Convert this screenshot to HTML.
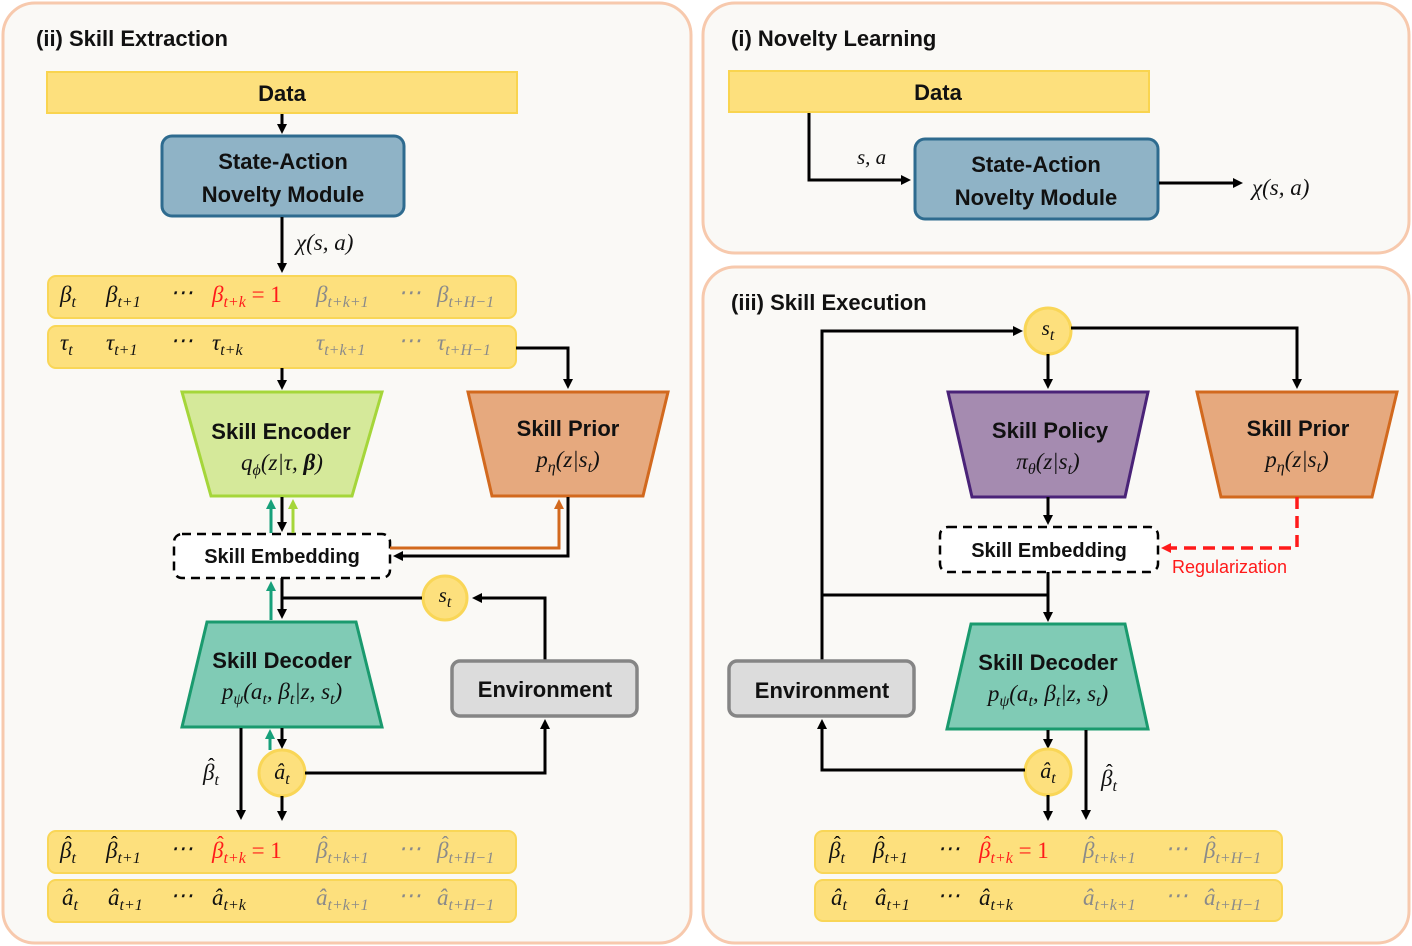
<!DOCTYPE html>
<html><head><meta charset="utf-8"><style>
html,body{margin:0;padding:0;background:#fff;}
svg{display:block;}
.t{font-family:"Liberation Sans",sans-serif;font-weight:bold;fill:#111;}
.m{font-family:"Liberation Serif",serif;font-style:italic;fill:#111;}
.s{font-size:16px;}
.g{fill:#8a8a8a;}
.r{fill:#ff1a1a;}
.h{font-family:"Liberation Serif",serif;font-size:20px;}
</style></head><body>
<svg width="1412" height="946" viewBox="0 0 1412 946" xmlns="http://www.w3.org/2000/svg">
<defs>
<marker id="ab" markerWidth="10" markerHeight="10" refX="7" refY="5" orient="auto" markerUnits="userSpaceOnUse"><path d="M0,0 L10,5 L0,10 z" fill="#000"/></marker>
<marker id="ag" markerWidth="10" markerHeight="10" refX="7" refY="5" orient="auto" markerUnits="userSpaceOnUse"><path d="M0,0 L10,5 L0,10 z" fill="#17a07a"/></marker>
<marker id="al" markerWidth="10" markerHeight="10" refX="7" refY="5" orient="auto" markerUnits="userSpaceOnUse"><path d="M0,0 L10,5 L0,10 z" fill="#a5d63a"/></marker>
<marker id="ao" markerWidth="10" markerHeight="10" refX="7" refY="5" orient="auto" markerUnits="userSpaceOnUse"><path d="M0,0 L10,5 L0,10 z" fill="#d2691e"/></marker>
<marker id="ar" markerWidth="10" markerHeight="10" refX="7" refY="5" orient="auto" markerUnits="userSpaceOnUse"><path d="M0,0 L10,5 L0,10 z" fill="#ff1a1a"/></marker>
</defs>
<rect width="1412" height="946" fill="#fff"/>
<rect x="3" y="3" width="688" height="940" rx="32" fill="#faf9f6" stroke="#f7c9ad" stroke-width="3"/>
<rect x="703" y="3" width="706" height="250" rx="32" fill="#faf9f6" stroke="#f7c9ad" stroke-width="3"/>
<rect x="703" y="267" width="706" height="676" rx="32" fill="#faf9f6" stroke="#f7c9ad" stroke-width="3"/>

<text class="t" x="36" y="46" font-size="22">(ii) Skill Extraction</text>
<text class="t" x="731" y="46" font-size="22">(i) Novelty Learning</text>
<text class="t" x="731" y="310" font-size="22">(iii) Skill Execution</text>

<!-- LEFT -->
<rect x="47" y="72" width="470" height="41" fill="#fde07d" stroke="#f9d44f" stroke-width="2"/>
<text class="t" x="282" y="101" font-size="22" text-anchor="middle">Data</text>
<line x1="282" y1="114" x2="282" y2="131" stroke="#000" stroke-width="3" marker-end="url(#ab)"/>
<rect x="162" y="136" width="242" height="80" rx="10" fill="#8fb3c6" stroke="#2e6b8f" stroke-width="3"/>
<text class="t" x="283" y="169" font-size="22" text-anchor="middle">State-Action</text>
<text class="t" x="283" y="202" font-size="22" text-anchor="middle">Novelty Module</text>
<line x1="282" y1="217" x2="282" y2="270" stroke="#000" stroke-width="3" marker-end="url(#ab)"/>
<text class="m" x="296" y="250" font-size="23">χ(s, a)</text>

<rect x="48" y="276" width="468" height="42" rx="8" fill="#fde07d" stroke="#f9d657" stroke-width="2"/>
<g class="m" font-size="23">
<text x="60" y="302">β<tspan class="s" dy="5">t</tspan></text>
<text x="106" y="302">β<tspan class="s" dy="5">t+1</tspan></text>
<text x="170" y="300">⋯</text>
<text x="212" y="302" class="m r">β<tspan class="s" dy="5">t+k</tspan><tspan dy="-5" font-style="normal"> = 1</tspan></text>
<text x="316" y="302" class="m g">β<tspan class="s" dy="5">t+k+1</tspan></text>
<text x="398" y="300" class="g">⋯</text>
<text x="437" y="302" class="m g">β<tspan class="s" dy="5">t+H−1</tspan></text>
</g>
<rect x="48" y="326" width="468" height="42" rx="8" fill="#fde07d" stroke="#f9d657" stroke-width="2"/>
<g class="m" font-size="23">
<text x="60" y="350">τ<tspan class="s" dy="5">t</tspan></text>
<text x="106" y="350">τ<tspan class="s" dy="5">t+1</tspan></text>
<text x="170" y="348">⋯</text>
<text x="212" y="350">τ<tspan class="s" dy="5">t+k</tspan></text>
<text x="316" y="350" class="m g">τ<tspan class="s" dy="5">t+k+1</tspan></text>
<text x="398" y="348" class="g">⋯</text>
<text x="437" y="350" class="m g">τ<tspan class="s" dy="5">t+H−1</tspan></text>
</g>
<line x1="282" y1="368" x2="282" y2="387" stroke="#000" stroke-width="3" marker-end="url(#ab)"/>
<polyline points="516,348 568,348 568,386" fill="none" stroke="#000" stroke-width="3" marker-end="url(#ab)"/>

<polygon points="182,392 382,392 352,496 211,496" fill="#d5e99a" stroke="#a5d63a" stroke-width="3"/>
<text class="t" x="281" y="439" font-size="22" text-anchor="middle">Skill Encoder</text>
<text class="m" x="282" y="470" font-size="23" text-anchor="middle">q<tspan class="s" dy="5">ϕ</tspan><tspan dy="-5">(z|τ, </tspan><tspan font-weight="bold">β</tspan>)</text>
<polygon points="468,392 668,392 643,496 492,496" fill="#e6a97e" stroke="#d2691e" stroke-width="3"/>
<text class="t" x="568" y="436" font-size="22" text-anchor="middle">Skill Prior</text>
<text class="m" x="568" y="467" font-size="23" text-anchor="middle">p<tspan class="s" dy="5">η</tspan><tspan dy="-5">(z|s</tspan><tspan class="s" dy="5">t</tspan><tspan dy="-5">)</tspan></text>

<rect x="174" y="534" width="216" height="44" rx="8" fill="#fff" stroke="#000" stroke-width="2.5" stroke-dasharray="9,6"/>
<text class="t" x="282" y="563" font-size="20" text-anchor="middle">Skill Embedding</text>
<line x1="282" y1="497" x2="282" y2="529" stroke="#000" stroke-width="3" marker-end="url(#ab)"/>
<line x1="271" y1="533" x2="271" y2="502" stroke="#17a07a" stroke-width="3" marker-end="url(#ag)"/>
<line x1="293" y1="533" x2="293" y2="502" stroke="#a5d63a" stroke-width="3" marker-end="url(#al)"/>
<polyline points="568,497 568,556 396,556" fill="none" stroke="#000" stroke-width="3" marker-end="url(#ab)"/>
<polyline points="390,548 559,548 559,502" fill="none" stroke="#d2691e" stroke-width="3" marker-end="url(#ao)"/>

<circle cx="445" cy="598" r="22" fill="#fde07d" stroke="#f9d657" stroke-width="3"/>
<text class="m" x="445" y="602" font-size="21" text-anchor="middle">s<tspan class="s" dy="5">t</tspan></text>
<polyline points="422,598 282,598" fill="none" stroke="#000" stroke-width="3"/>
<line x1="282" y1="578" x2="282" y2="616" stroke="#000" stroke-width="3" marker-end="url(#ab)"/>
<line x1="271" y1="620" x2="271" y2="584" stroke="#17a07a" stroke-width="3" marker-end="url(#ag)"/>
<polyline points="545,660 545,598 475,598" fill="none" stroke="#000" stroke-width="3" marker-end="url(#ab)"/>

<polygon points="207,622 356,622 382,727 182,727" fill="#80cbb5" stroke="#1a9a6e" stroke-width="3"/>
<text class="t" x="282" y="668" font-size="22" text-anchor="middle">Skill Decoder</text>
<text class="m" x="282" y="699" font-size="23" text-anchor="middle">p<tspan class="s" dy="5">ψ</tspan><tspan dy="-5">(a</tspan><tspan class="s" dy="5">t</tspan><tspan dy="-5">, β</tspan><tspan class="s" dy="5">t</tspan><tspan dy="-5">|z, s</tspan><tspan class="s" dy="5">t</tspan><tspan dy="-5">)</tspan></text>

<rect x="452" y="661" width="185" height="55" rx="8" fill="#dcdcdc" stroke="#858585" stroke-width="3.5"/>
<text class="t" x="545" y="697" font-size="22" text-anchor="middle">Environment</text>

<line x1="282" y1="728" x2="282" y2="746" stroke="#000" stroke-width="3" marker-end="url(#ab)"/>
<line x1="270" y1="750" x2="270" y2="732" stroke="#17a07a" stroke-width="3" marker-end="url(#ag)"/>
<circle cx="282" cy="773" r="23" fill="#fde07d" stroke="#f9d657" stroke-width="3"/>
<text class="m" x="282" y="779" font-size="22" text-anchor="middle">â<tspan class="s" dy="5">t</tspan></text>
<polyline points="305,773 545,773 545,722" fill="none" stroke="#000" stroke-width="3" marker-end="url(#ab)"/>
<line x1="241" y1="728" x2="241" y2="817" stroke="#000" stroke-width="3" marker-end="url(#ab)"/>
<text class="m" x="203" y="780" font-size="23">β<tspan class="s" dy="5">t</tspan></text><text class="h" x="208" y="772">ˆ</text>
<line x1="282" y1="796" x2="282" y2="818" stroke="#000" stroke-width="3" marker-end="url(#ab)"/>

<rect x="48" y="831" width="468" height="42" rx="8" fill="#fde07d" stroke="#f9d657" stroke-width="2"/>
<g class="m" font-size="23">
<text x="60" y="858">β<tspan class="s" dy="5">t</tspan></text>
<text x="106" y="858">β<tspan class="s" dy="5">t+1</tspan></text>
<text x="170" y="856">⋯</text>
<text x="212" y="858" class="m r">β<tspan class="s" dy="5">t+k</tspan><tspan dy="-5" font-style="normal"> = 1</tspan></text>
<text x="316" y="858" class="m g">β<tspan class="s" dy="5">t+k+1</tspan></text>
<text x="398" y="856" class="g">⋯</text>
<text x="437" y="858" class="m g">β<tspan class="s" dy="5">t+H−1</tspan></text>
</g>
<g class="h">
<text x="65" y="850">ˆ</text><text x="111" y="850">ˆ</text>
<text x="217" y="850" fill="#ff1a1a">ˆ</text>
<text x="321" y="850" fill="#8a8a8a">ˆ</text><text x="442" y="850" fill="#8a8a8a">ˆ</text>
</g>
<rect x="48" y="880" width="468" height="42" rx="8" fill="#fde07d" stroke="#f9d657" stroke-width="2"/>
<g class="m" font-size="23">
<text x="62" y="905">â<tspan class="s" dy="5">t</tspan></text>
<text x="108" y="905">â<tspan class="s" dy="5">t+1</tspan></text>
<text x="170" y="903">⋯</text>
<text x="212" y="905">â<tspan class="s" dy="5">t+k</tspan></text>
<text x="316" y="905" class="m g">â<tspan class="s" dy="5">t+k+1</tspan></text>
<text x="398" y="903" class="g">⋯</text>
<text x="437" y="905" class="m g">â<tspan class="s" dy="5">t+H−1</tspan></text>
</g>

<!-- TOP RIGHT -->
<rect x="729" y="71" width="420" height="41" fill="#fde07d" stroke="#f9d44f" stroke-width="2"/>
<text class="t" x="938" y="100" font-size="22" text-anchor="middle">Data</text>
<polyline points="809,113 809,180 908,180" fill="none" stroke="#000" stroke-width="3" marker-end="url(#ab)"/>
<text class="m" x="857" y="164" font-size="21">s, a</text>
<rect x="915" y="139" width="243" height="80" rx="10" fill="#8fb3c6" stroke="#2e6b8f" stroke-width="3"/>
<text class="t" x="1036" y="172" font-size="22" text-anchor="middle">State-Action</text>
<text class="t" x="1036" y="205" font-size="22" text-anchor="middle">Novelty Module</text>
<line x1="1159" y1="183" x2="1240" y2="183" stroke="#000" stroke-width="3" marker-end="url(#ab)"/>
<text class="m" x="1252" y="195" font-size="23">χ(s, a)</text>

<!-- BOTTOM RIGHT -->
<circle cx="1048" cy="331" r="23" fill="#fde07d" stroke="#f9d657" stroke-width="3"/>
<text class="m" x="1048" y="335" font-size="21" text-anchor="middle">s<tspan class="s" dy="5">t</tspan></text>
<polyline points="822,661 822,331 1020,331" fill="none" stroke="#000" stroke-width="3" marker-end="url(#ab)"/>
<polyline points="1071,328 1297,328 1297,386" fill="none" stroke="#000" stroke-width="3" marker-end="url(#ab)"/>
<line x1="1048" y1="354" x2="1048" y2="386" stroke="#000" stroke-width="3" marker-end="url(#ab)"/>

<polygon points="948,392 1148,392 1125,497 972,497" fill="#a58bb0" stroke="#4a2378" stroke-width="3"/>
<text class="t" x="1050" y="438" font-size="22" text-anchor="middle">Skill Policy</text>
<text class="m" x="1048" y="469" font-size="23" text-anchor="middle">π<tspan class="s" dy="5">θ</tspan><tspan dy="-5">(z|s</tspan><tspan class="s" dy="5">t</tspan><tspan dy="-5">)</tspan></text>

<polygon points="1197,392 1397,392 1372,497 1221,497" fill="#e6a97e" stroke="#d2691e" stroke-width="3"/>
<text class="t" x="1298" y="436" font-size="22" text-anchor="middle">Skill Prior</text>
<text class="m" x="1297" y="467" font-size="23" text-anchor="middle">p<tspan class="s" dy="5">η</tspan><tspan dy="-5">(z|s</tspan><tspan class="s" dy="5">t</tspan><tspan dy="-5">)</tspan></text>

<line x1="1048" y1="497" x2="1048" y2="522" stroke="#000" stroke-width="3" marker-end="url(#ab)"/>
<rect x="940" y="527" width="218" height="45" rx="8" fill="#fff" stroke="#000" stroke-width="2.5" stroke-dasharray="9,6"/>
<text class="t" x="1049" y="557" font-size="20" text-anchor="middle">Skill Embedding</text>
<polyline points="1297,497 1297,548 1164,548" fill="none" stroke="#ff1a1a" stroke-width="3.5" stroke-dasharray="12,7" marker-end="url(#ar)"/>
<text x="1172" y="573" font-size="18" fill="#ff1a1a" font-family="Liberation Sans,sans-serif">Regularization</text>

<polyline points="822,595 1048,595" fill="none" stroke="#000" stroke-width="3"/>
<line x1="1048" y1="572" x2="1048" y2="619" stroke="#000" stroke-width="3" marker-end="url(#ab)"/>

<polygon points="971,624 1125,624 1148,729 947,729" fill="#80cbb5" stroke="#1a9a6e" stroke-width="3"/>
<text class="t" x="1048" y="670" font-size="22" text-anchor="middle">Skill Decoder</text>
<text class="m" x="1048" y="701" font-size="23" text-anchor="middle">p<tspan class="s" dy="5">ψ</tspan><tspan dy="-5">(a</tspan><tspan class="s" dy="5">t</tspan><tspan dy="-5">, β</tspan><tspan class="s" dy="5">t</tspan><tspan dy="-5">|z, s</tspan><tspan class="s" dy="5">t</tspan><tspan dy="-5">)</tspan></text>

<rect x="729" y="661" width="185" height="55" rx="8" fill="#dcdcdc" stroke="#858585" stroke-width="3.5"/>
<text class="t" x="822" y="698" font-size="22" text-anchor="middle">Environment</text>

<line x1="1048" y1="730" x2="1048" y2="746" stroke="#000" stroke-width="3" marker-end="url(#ab)"/>
<circle cx="1048" cy="772" r="23" fill="#fde07d" stroke="#f9d657" stroke-width="3"/>
<text class="m" x="1048" y="778" font-size="22" text-anchor="middle">â<tspan class="s" dy="5">t</tspan></text>
<polyline points="1025,770 822,770 822,722" fill="none" stroke="#000" stroke-width="3" marker-end="url(#ab)"/>
<line x1="1048" y1="795" x2="1048" y2="818" stroke="#000" stroke-width="3" marker-end="url(#ab)"/>
<line x1="1086" y1="730" x2="1086" y2="817" stroke="#000" stroke-width="3" marker-end="url(#ab)"/>
<text class="m" x="1101" y="786" font-size="23">β<tspan class="s" dy="5">t</tspan></text><text class="h" x="1106" y="778">ˆ</text>

<rect x="815" y="831" width="467" height="42" rx="8" fill="#fde07d" stroke="#f9d657" stroke-width="2"/>
<g class="m" font-size="23">
<text x="829" y="858">β<tspan class="s" dy="5">t</tspan></text>
<text x="873" y="858">β<tspan class="s" dy="5">t+1</tspan></text>
<text x="937" y="856">⋯</text>
<text x="979" y="858" class="m r">β<tspan class="s" dy="5">t+k</tspan><tspan dy="-5" font-style="normal"> = 1</tspan></text>
<text x="1083" y="858" class="m g">β<tspan class="s" dy="5">t+k+1</tspan></text>
<text x="1165" y="856" class="g">⋯</text>
<text x="1204" y="858" class="m g">β<tspan class="s" dy="5">t+H−1</tspan></text>
</g>
<g class="h">
<text x="834" y="850">ˆ</text><text x="878" y="850">ˆ</text>
<text x="984" y="850" fill="#ff1a1a">ˆ</text>
<text x="1088" y="850" fill="#8a8a8a">ˆ</text><text x="1209" y="850" fill="#8a8a8a">ˆ</text>
</g>
<rect x="815" y="880" width="467" height="41" rx="8" fill="#fde07d" stroke="#f9d657" stroke-width="2"/>
<g class="m" font-size="23">
<text x="831" y="905">â<tspan class="s" dy="5">t</tspan></text>
<text x="875" y="905">â<tspan class="s" dy="5">t+1</tspan></text>
<text x="937" y="903">⋯</text>
<text x="979" y="905">â<tspan class="s" dy="5">t+k</tspan></text>
<text x="1083" y="905" class="m g">â<tspan class="s" dy="5">t+k+1</tspan></text>
<text x="1165" y="903" class="g">⋯</text>
<text x="1204" y="905" class="m g">â<tspan class="s" dy="5">t+H−1</tspan></text>
</g>
</svg>
</body></html>
